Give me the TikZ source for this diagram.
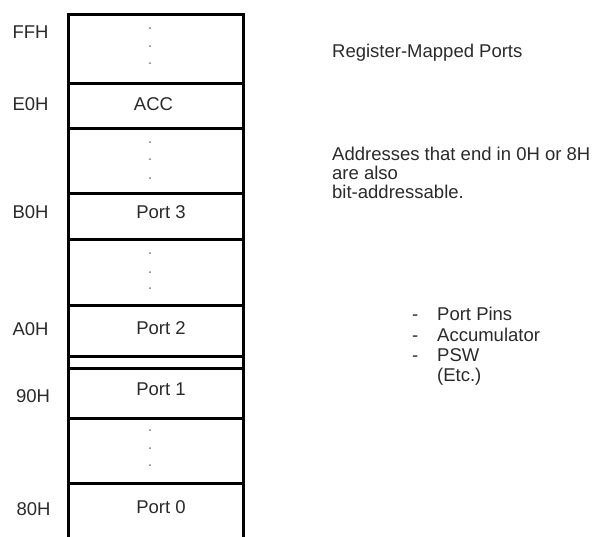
\documentclass[tikz,border=0pt]{standalone}
\usepackage{fontspec}
\setmainfont{Liberation Sans}
\definecolor{txtgray}{HTML}{2A2A2A}
\definecolor{dotgray}{HTML}{777777}
\begin{document}
\begin{tikzpicture}[x=1pt,y=-1pt,
  cell/.style={draw=black, line width=3pt, minimum width=175pt, inner sep=0pt, outer sep=0pt},
  lbl/.style={anchor=base, inner sep=0pt, font=\fontsize{18.5}{21}\selectfont, text=txtgray},
  lbll/.style={anchor=base west, inner sep=0pt, font=\fontsize{18.5}{21}\selectfont, text=txtgray, align=left},
  dotm/.style={circle, fill=dotgray, minimum size=2pt, inner sep=0pt}]
\useasboundingbox (0,0) rectangle (594,536);
% cells
\node[cell, minimum height=69pt] (c1) at (155.5,48.5) {};
\node[cell, minimum height=45pt] (c2) at (155.5,105.5) {};
\node[cell, minimum height=65pt] (c3) at (155.5,160.5) {};
\node[cell, minimum height=46pt] (c4) at (155.5,216) {};
\node[cell, minimum height=66pt] (c5) at (155.5,272) {};
\node[cell, minimum height=51pt] (c6) at (155.5,330.5) {};
\node[cell, minimum height=12pt] (c7) at (155.5,362) {};
\node[cell, minimum height=50pt] (c8) at (155.5,393) {};
\node[cell, minimum height=65pt] (c9) at (155.5,450.5) {};
\node[cell, minimum height=80pt] (c10) at (155.5,523) {};
% cell texts
\node[lbl] (tacc) at (153.5,110) {ACC};
\node[lbl] (tp3) at (161,218) {Port 3};
\node[lbl] (tp2) at (161,334) {Port 2};
\node[lbl] (tp1) at (161,395) {Port 1};
\node[lbl] (tp0) at (161,513) {Port 0};
% dots
\foreach \y [count=\i] in {28,46,63,142,159,178,253,272,288,430,448,465}
  \node[dotm] (d\i) at (150,\y) {};
% addresses
\node[lbl] (aFF) at (30.5,38) {FFH};
\node[lbl] (aE0) at (30.5,110) {E0H};
\node[lbl] (aB0) at (30.5,218) {B0H};
\node[lbl] (aA0) at (30.5,335) {A0H};
\node[lbl] (a90) at (33,402) {90H};
\node[lbl] (a80) at (33.5,515) {80H};
% right texts
\node[lbll] (title) at (332,57) {Register-Mapped Ports};
\node[lbll] (addr1) at (332,160) {Addresses that end in 0H or 8H};
\node[lbll] (addr2) at (332,179) {are also};
\node[lbll] (addr3) at (332,198) {bit-addressable.};
\node[lbll] (m1) at (412,320) {-};
\node[lbll] (m2) at (412,341) {-};
\node[lbll] (m3) at (412,361) {-};
\node[lbll] (l1) at (437,320) {Port Pins};
\node[lbll] (l2) at (437,341) {Accumulator};
\node[lbll] (l3) at (437,361) {PSW};
\node[lbll] (l4) at (437,381) {(Etc.)};
\end{tikzpicture}
\end{document}
